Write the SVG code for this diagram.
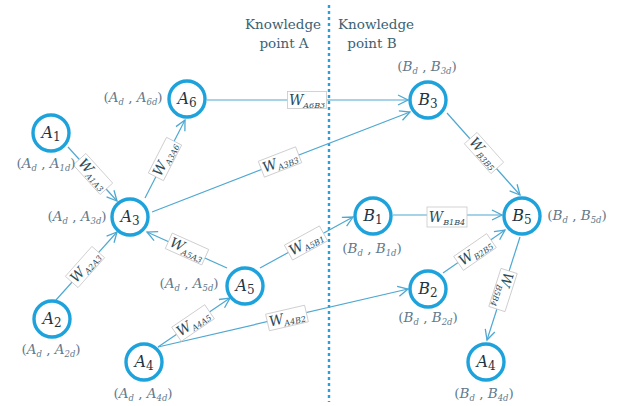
<svg xmlns="http://www.w3.org/2000/svg" width="622" height="406" viewBox="0 0 622 406">
<defs>
<marker id="arr" markerUnits="userSpaceOnUse" markerWidth="12" markerHeight="12" refX="10" refY="5" orient="auto" overflow="visible">
<path d="M0,0 L10,5 L0,10" fill="none" stroke="#4ea8d2" stroke-width="1.3"/>
</marker>
<style>
text{font-family:'DejaVu Serif','Liberation Serif',serif}
.node circle{fill:#fff;stroke:#1da2dc;stroke-width:3.4}
.nl{font-size:16px;fill:#1e3644;text-anchor:middle}
.i{font-style:italic}
.ns{font-size:12px}
.coord{font-size:13.5px;fill:#62798a;text-anchor:middle}
.cs{font-size:8.5px;font-style:italic}
.edges line{stroke:#4ea8d2;stroke-width:1.2;fill:none}
.arrowed{marker-end:url(#arr)}
.lbl rect{fill:#fff;stroke:#c8c8c8;stroke-width:0.8}
.lbl text{font-size:14px;font-style:italic;fill:#2b4b5a;text-anchor:middle}
.lbl .ws{font-size:8px}
.hdr{font-size:13.5px;fill:#3b6272;text-anchor:middle}
</style>
</defs>
<rect width="622" height="406" fill="#fff"/>

<line x1="329" y1="5" x2="329" y2="402" stroke="#2a9fd8" stroke-width="2.4" stroke-dasharray="3,3"/>
<text class="hdr" x="283" y="29">Knowledge</text>
<text class="hdr" x="284" y="48">point A</text>
<text class="hdr" x="376" y="29">Knowledge</text>
<text class="hdr" x="372" y="48">point B</text>

<g class="edges">
<line class="arrowed" x1="68" y1="147" x2="117" y2="201"/>
<line class="arrowed" x1="56" y1="300" x2="117" y2="232"/>
<line class="arrowed" x1="145" y1="198" x2="185" y2="120"/>
<line class="arrowed" x1="227" y1="268" x2="147" y2="232"/>
<line class="arrowed" x1="152" y1="212" x2="410" y2="112"/>
<line class="arrowed" x1="207" y1="100" x2="408" y2="100"/>
<line class="arrowed" x1="158" y1="347" x2="230" y2="298"/>
<line class="arrowed" x1="158" y1="347" x2="408" y2="289"/>
<line class="arrowed" x1="260" y1="268" x2="353" y2="217"/>
<line class="arrowed" x1="393" y1="215" x2="502" y2="215"/>
<line class="arrowed" x1="447" y1="113" x2="520" y2="195"/>
<line class="arrowed" x1="443" y1="273" x2="505" y2="230"/>
<line class="arrowed" x1="520" y1="237" x2="487" y2="340"/>

<g class="lbl" transform="translate(93,174) rotate(47.8)"><rect x="-20" y="-8.5" width="40" height="17"/><text y="4.5">W<tspan class="ws" dy="3">A1A3</tspan></text></g>
<g class="lbl" transform="translate(85,267) rotate(-48.4)"><rect x="-20" y="-8.5" width="40" height="17"/><text y="4.5">W<tspan class="ws" dy="3">A2A3</tspan></text></g>
<g class="lbl" transform="translate(165,159) rotate(-62.9)"><rect x="-20" y="-8.5" width="40" height="17"/><text y="4.5">W<tspan class="ws" dy="3">A3A6</tspan></text></g>
<g class="lbl" transform="translate(187,249) rotate(24.2)"><rect x="-20" y="-8.5" width="40" height="17"/><text y="4.5">W<tspan class="ws" dy="3">A5A3</tspan></text></g>
<g class="lbl" transform="translate(280,162) rotate(-21.2)"><rect x="-20" y="-8.5" width="40" height="17"/><text y="4.5">W<tspan class="ws" dy="3">A3B3</tspan></text></g>
<g class="lbl" transform="translate(307,100)"><rect x="-19.5" y="-8.5" width="39" height="17"/><text y="4.5">W<tspan class="ws" dy="3">A6B3</tspan></text></g>
<g class="lbl" transform="translate(193,323) rotate(-34.2)"><rect x="-20" y="-8.5" width="40" height="17"/><text y="4.5">W<tspan class="ws" dy="3">A4A5</tspan></text></g>
<g class="lbl" transform="translate(287,318) rotate(-13)"><rect x="-20" y="-8.5" width="40" height="17"/><text y="4.5">W<tspan class="ws" dy="3">A4B2</tspan></text></g>
<g class="lbl" transform="translate(306,243) rotate(-28.7)"><rect x="-20" y="-8.5" width="40" height="17"/><text y="4.5">W<tspan class="ws" dy="3">A5B1</tspan></text></g>
<g class="lbl" transform="translate(447,217)"><rect x="-20" y="-10" width="40" height="20"/><text y="4.5">W<tspan class="ws" dy="3">B1B4</tspan></text></g>
<g class="lbl" transform="translate(484,153) rotate(48.3)"><rect x="-20" y="-8.5" width="40" height="17"/><text y="4.5">W<tspan class="ws" dy="3">B3B5</tspan></text></g>
<g class="lbl" transform="translate(475,252) rotate(-34.7)"><rect x="-20" y="-8.5" width="40" height="17"/><text y="4.5">W<tspan class="ws" dy="3">B2B5</tspan></text></g>
<g class="lbl" transform="translate(503,290) rotate(107.8)"><rect x="-20" y="-8.5" width="40" height="17"/><text y="4.5">W<tspan class="ws" dy="3">B5B4</tspan></text></g>
</g>

<g id="A1" class="node"><circle cx="51" cy="133" r="18"/><text class="nl" x="51" y="138"><tspan class="i">A</tspan><tspan class="ns" dy="3">1</tspan></text>
<text class="coord" x="46" y="168">(<tspan class="i">A</tspan><tspan class="cs" dy="3">d</tspan><tspan dy="-3"> , </tspan><tspan class="i">A</tspan><tspan class="cs" dy="3">1d</tspan><tspan dy="-3">)</tspan></text></g>
<g id="A3" class="node"><circle cx="130" cy="217" r="18"/><text class="nl" x="130" y="222"><tspan class="i">A</tspan><tspan class="ns" dy="3">3</tspan></text>
<text class="coord" x="77" y="221">(<tspan class="i">A</tspan><tspan class="cs" dy="3">d</tspan><tspan dy="-3"> , </tspan><tspan class="i">A</tspan><tspan class="cs" dy="3">3d</tspan><tspan dy="-3">)</tspan></text></g>
<g id="A6" class="node"><circle cx="187" cy="99" r="18"/><text class="nl" x="187" y="104"><tspan class="i">A</tspan><tspan class="ns" dy="3">6</tspan></text>
<text class="coord" x="133" y="102">(<tspan class="i">A</tspan><tspan class="cs" dy="3">d</tspan><tspan dy="-3"> , </tspan><tspan class="i">A</tspan><tspan class="cs" dy="3">6d</tspan><tspan dy="-3">)</tspan></text></g>
<g id="A2" class="node"><circle cx="52" cy="319" r="18"/><text class="nl" x="52" y="324"><tspan class="i">A</tspan><tspan class="ns" dy="3">2</tspan></text>
<text class="coord" x="51" y="354">(<tspan class="i">A</tspan><tspan class="cs" dy="3">d</tspan><tspan dy="-3"> , </tspan><tspan class="i">A</tspan><tspan class="cs" dy="3">2d</tspan><tspan dy="-3">)</tspan></text></g>
<g id="A5" class="node"><circle cx="245" cy="286" r="18"/><text class="nl" x="245" y="291"><tspan class="i">A</tspan><tspan class="ns" dy="3">5</tspan></text>
<text class="coord" x="189" y="288">(<tspan class="i">A</tspan><tspan class="cs" dy="3">d</tspan><tspan dy="-3"> , </tspan><tspan class="i">A</tspan><tspan class="cs" dy="3">5d</tspan><tspan dy="-3">)</tspan></text></g>
<g id="A4" class="node"><circle cx="144" cy="362" r="18"/><text class="nl" x="144" y="367"><tspan class="i">A</tspan><tspan class="ns" dy="3">4</tspan></text>
<text class="coord" x="143" y="398">(<tspan class="i">A</tspan><tspan class="cs" dy="3">d</tspan><tspan dy="-3"> , </tspan><tspan class="i">A</tspan><tspan class="cs" dy="3">4d</tspan><tspan dy="-3">)</tspan></text></g>
<g id="B3" class="node"><circle cx="428" cy="100" r="18"/><text class="nl" x="428" y="105"><tspan class="i">B</tspan><tspan class="ns" dy="3">3</tspan></text>
<text class="coord" x="427" y="71">(<tspan class="i">B</tspan><tspan class="cs" dy="3">d</tspan><tspan dy="-3"> , </tspan><tspan class="i">B</tspan><tspan class="cs" dy="3">3d</tspan><tspan dy="-3">)</tspan></text></g>
<g id="B1" class="node"><circle cx="373" cy="216" r="18"/><text class="nl" x="373" y="221"><tspan class="i">B</tspan><tspan class="ns" dy="3">1</tspan></text>
<text class="coord" x="372" y="253">(<tspan class="i">B</tspan><tspan class="cs" dy="3">d</tspan><tspan dy="-3"> , </tspan><tspan class="i">B</tspan><tspan class="cs" dy="3">1d</tspan><tspan dy="-3">)</tspan></text></g>
<g id="B5" class="node"><circle cx="522" cy="216" r="18"/><text class="nl" x="522" y="221"><tspan class="i">B</tspan><tspan class="ns" dy="3">5</tspan></text>
<text class="coord" x="577" y="220">(<tspan class="i">B</tspan><tspan class="cs" dy="3">d</tspan><tspan dy="-3"> , </tspan><tspan class="i">B</tspan><tspan class="cs" dy="3">5d</tspan><tspan dy="-3">)</tspan></text></g>
<g id="B2" class="node"><circle cx="428" cy="289" r="18"/><text class="nl" x="428" y="294"><tspan class="i">B</tspan><tspan class="ns" dy="3">2</tspan></text>
<text class="coord" x="428" y="322">(<tspan class="i">B</tspan><tspan class="cs" dy="3">d</tspan><tspan dy="-3"> , </tspan><tspan class="i">B</tspan><tspan class="cs" dy="3">2d</tspan><tspan dy="-3">)</tspan></text></g>
<g id="A4r" class="node"><circle cx="486" cy="362" r="18"/><text class="nl" x="486" y="367"><tspan class="i">A</tspan><tspan class="ns" dy="3">4</tspan></text>
<text class="coord" x="484" y="398">(<tspan class="i">B</tspan><tspan class="cs" dy="3">d</tspan><tspan dy="-3"> , </tspan><tspan class="i">B</tspan><tspan class="cs" dy="3">4d</tspan><tspan dy="-3">)</tspan></text></g>
</svg>
